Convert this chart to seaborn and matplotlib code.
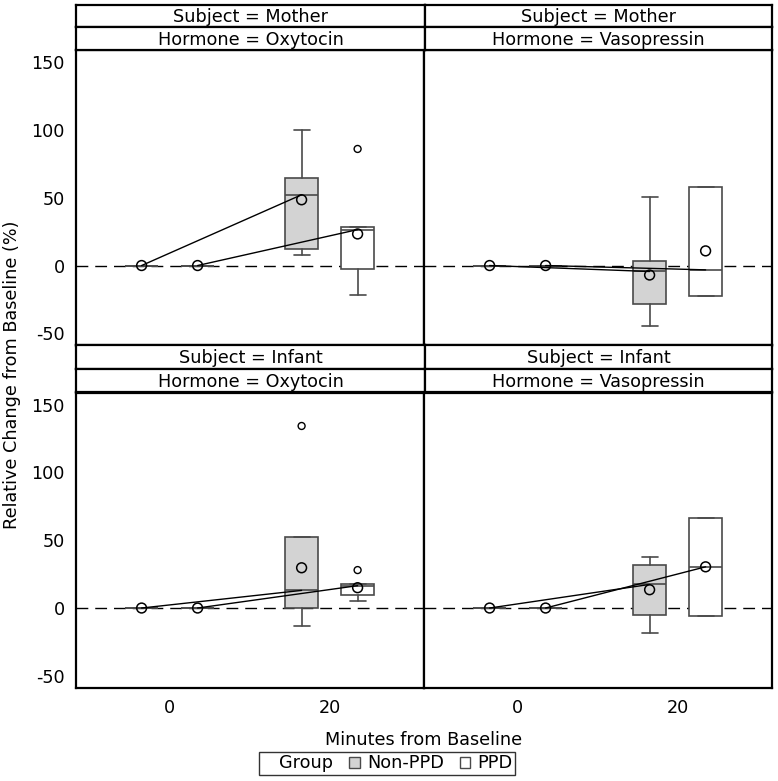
import matplotlib
matplotlib.use('Agg')
import matplotlib.pyplot as plt
from matplotlib.patches import Patch
import numpy as np
import pandas as pd
import seaborn as sns

# panels: (subject, hormone)
panel_subject = ['Mother', 'Mother', 'Infant', 'Infant']
panel_hormone = ['Oxytocin', 'Vasopressin', 'Oxytocin', 'Vasopressin']
groups = ['Non-PPD', 'PPD']
times = [0, 20]

# box stats at minute 20 (baseline is all zero)
nonppd_q1 = [12.3, -28.4, 0.2, -5.1]
nonppd_med = [52.2, -4.4, 13.0, 17.4]
nonppd_q3 = [64.7, 3.7, 52.7, 31.9]
nonppd_whislo = [7.6, -44.6, -13.2, -18.1]
nonppd_whishi = [100.0, 50.5, 52.7, 37.7]
nonppd_mean = [48.5, -7.0, 29.7, 13.5]
nonppd_out = [[], [], [134.3], []]

ppd_q1 = [-2.5, -22.3, 9.3, -5.6]
ppd_med = [26.5, -3.2, 16.5, 30.4]
ppd_q3 = [28.2, 58.0, 17.5, 66.2]
ppd_whislo = [-21.6, -22.3, 4.9, -5.6]
ppd_whishi = [28.2, 58.0, 17.5, 66.2]
ppd_mean = [23.3, 10.8, 15.0, 30.4]
ppd_out = [[86.0], [], [28.0], []]

fill = {'Non-PPD': '#d3d3d3', 'PPD': 'white'}
offset = {'Non-PPD': -3.5, 'PPD': 3.5}
edge = '#4a4a4a'

stats_20 = {
    'Non-PPD': (nonppd_q1, nonppd_med, nonppd_q3, nonppd_whislo, nonppd_whishi, nonppd_mean, nonppd_out),
    'PPD': (ppd_q1, ppd_med, ppd_q3, ppd_whislo, ppd_whishi, ppd_mean, ppd_out),
}

rows = []
for i in range(4):
    for g in groups:
        q1, med, q3, lo, hi, mn, out = stats_20[g]
        rows.append([panel_subject[i], panel_hormone[i], g, times[0], 0, 0, 0, 0, 0, 0, []])
        rows.append([panel_subject[i], panel_hormone[i], g, times[1],
                     q1[i], med[i], q3[i], lo[i], hi[i], mn[i], out[i]])
df = pd.DataFrame(rows, columns=['Subject', 'Hormone', 'Group', 'Time',
                                 'q1', 'med', 'q3', 'whislo', 'whishi', 'mean', 'fliers'])
df['x'] = df['Time'] + df['Group'].map(offset)

sns.set_theme(style='white')
plt.rcParams['font.family'] = ['DejaVu Sans']
plt.rcParams['axes.unicode_minus'] = False
plt.rcParams['text.color'] = 'black'
plt.rcParams['xtick.color'] = 'black'
plt.rcParams['ytick.color'] = 'black'
FS = 12.7


def draw_panel(data, **kws):
    ax = plt.gca()
    ax.axhline(0, color='black', lw=1, ls=(0, (8.5, 5)), zorder=1)
    for g in groups:
        d = data[data.Group == g]
        st = [dict(q1=r.q1, med=r.med, q3=r.q3, whislo=r.whislo, whishi=r.whishi,
                   fliers=[]) for r in d.itertuples()]
        ax.bxp(st, positions=list(d.x), widths=4.1, capwidths=2.0, patch_artist=True,
               showfliers=False, manage_ticks=False,
               boxprops=dict(facecolor=fill[g], edgecolor=edge, lw=1.2),
               whiskerprops=dict(color=edge, lw=1.2),
               capprops=dict(color=edge, lw=1.2),
               medianprops=dict(color=edge, lw=1.2))
    sns.lineplot(data=data, x='x', y='med', units='Group', estimator=None,
                 color='black', lw=1, ax=ax, zorder=3)
    sns.scatterplot(data=data, x='x', y='mean', color='none', edgecolor='black',
                    linewidth=1.1, s=50, ax=ax, zorder=4)
    fl = data[['x', 'fliers']].explode('fliers').dropna()
    if len(fl):
        fl['fliers'] = fl['fliers'].astype(float)
        sns.scatterplot(data=fl, x='x', y='fliers', color='none', edgecolor='black',
                        linewidth=1, s=25, ax=ax, zorder=4)


g = sns.FacetGrid(df, row='Subject', col='Hormone', row_order=['Mother', 'Infant'],
                  col_order=['Oxytocin', 'Vasopressin'], despine=False,
                  height=3.9, aspect=1.0, margin_titles=False)
g.map_dataframe(draw_panel)
g.set_titles(template='')
g.set(xlim=(-11.7, 31.8), ylim=(-59, 159), xticks=[0, 20],
      yticks=[-50, 0, 50, 100, 150], xlabel='', ylabel='')

for (r, c), ax in np.ndenumerate(g.axes):
    for s in ax.spines.values():
        s.set_color('black')
        s.set_linewidth(1.6)
    ax.tick_params(axis='both', direction='out', length=5, width=1, color='#555555',
                   labelsize=FS, labelcolor='black', pad=3)
    if c == 1:
        ax.tick_params(axis='y', length=0, labelleft=False)
    if r == 0:
        ax.tick_params(axis='x', length=0, labelbottom=False)
    ax.set_xlabel('')
    ax.set_ylabel('')

fig = g.figure
fig.set_size_inches(7.78, 7.81)
W, H = 778.0, 781.0
fig.subplots_adjust(left=76 / W, right=772 / W, top=1 - 50 / H, bottom=1 - 688 / H,
                    wspace=0, hspace=47 / 295.5)

# strip headers
col_x = [(76, 425), (425, 772)]
strip_rows = [[(5, 27, 'Subject = Mother'), (27, 50, 'Hormone = ')],
              [(345, 369, 'Subject = Infant'), (369, 392, 'Hormone = ')]]
hormones = ['Oxytocin', 'Vasopressin']
for r in range(2):
    for c in range(2):
        x0, x1 = col_x[c]
        for (t, b, lab) in strip_rows[r]:
            if lab.startswith('Hormone'):
                lab = lab + hormones[c]
            sax = fig.add_axes([x0 / W, 1 - b / H, (x1 - x0) / W, (b - t) / H])
            sax.set_xticks([])
            sax.set_yticks([])
            sax.set_facecolor('white')
            for s in sax.spines.values():
                s.set_color('black')
                s.set_linewidth(1.6)
            sax.text(0.5, 0.45, lab, ha='center', va='center', fontsize=FS,
                     transform=sax.transAxes)

fig.text(12 / W, 1 - 375 / H, 'Relative Change from Baseline (%)', rotation=90,
         ha='center', va='center', fontsize=FS)
fig.text(424 / W, 1 - 740 / H, 'Minutes from Baseline', ha='center', va='center', fontsize=FS)

handles = [Patch(visible=False),
           Patch(facecolor=fill['Non-PPD'], edgecolor=edge),
           Patch(facecolor=fill['PPD'], edgecolor=edge)]
leg = fig.legend(handles, ['Group', 'Non-PPD', 'PPD'], ncol=3, loc='center',
                 bbox_to_anchor=(387 / W, 1 - 763.5 / H), frameon=True, fancybox=False,
                 edgecolor='black', fontsize=FS, handlelength=0.6, handleheight=0.6,
                 handletextpad=0.4, columnspacing=0.9, borderpad=0.15, borderaxespad=0)
leg.get_frame().set_linewidth(1.0)

fig.savefig('out.png', dpi=100)
